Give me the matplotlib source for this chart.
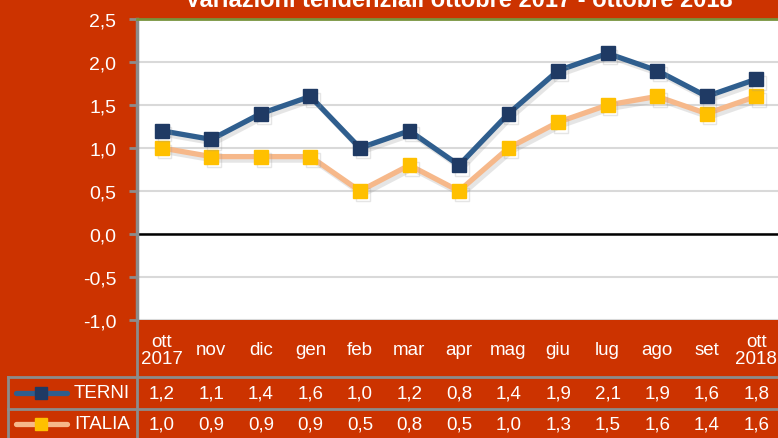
import matplotlib
matplotlib.use("Agg")
from matplotlib import pyplot as plt
from matplotlib import patheffects as pe
from matplotlib.transforms import blended_transform_factory
from matplotlib.lines import Line2D

# data
MONTHS = ["ott\n2017", "nov", "dic", "gen", "feb", "mar", "apr", "mag",
          "giu", "lug", "ago", "set", "ott\n2018"]
TERNI = [1.2, 1.1, 1.4, 1.6, 1.0, 1.2, 0.8, 1.4, 1.9, 2.1, 1.9, 1.6, 1.8]
ITALIA = [1.0, 0.9, 0.9, 0.9, 0.5, 0.8, 0.5, 1.0, 1.3, 1.5, 1.6, 1.4, 1.6]
YTICKS = [-1.0, -0.5, 0.0, 0.5, 1.0, 1.5, 2.0, 2.5]
TITLE = "Variazioni tendenziali ottobre 2017 - ottobre 2018"

BG = "#CC3300"
TERNI_LINE, TERNI_MK = "#2F5E8E", "#1F3A64"
ITALIA_LINE, ITALIA_MK = "#F6B88A", "#FFC000"
GRID_GRAY = "#8C8C8C"

plt.rcParams["font.family"] = ["Liberation Sans", "DejaVu Sans"]

W, H = 778, 439
fig = plt.figure(figsize=(W / 100, H / 100), dpi=100, facecolor=BG)
ax = fig.add_axes([137 / W, 118 / H, 644 / W, 301 / H])
ax.set_facecolor("white")

x = list(range(len(MONTHS)))
shadow = [pe.SimpleLineShadow(offset=(2, -2.5), shadow_color="#9a9a9a",
                              alpha=0.25), pe.Normal()]
ax.plot(x, ITALIA, color=ITALIA_LINE, lw=3.8, marker="s", ms=10,
        mfc=ITALIA_MK, mec=ITALIA_MK, path_effects=shadow, zorder=3)
ax.plot(x, TERNI, color=TERNI_LINE, lw=3.8, marker="s", ms=10,
        mfc=TERNI_MK, mec=TERNI_MK, path_effects=shadow, zorder=4)

ax.set_xlim(-0.5, 12.5)
ax.set_ylim(-1.0, 2.5)
ax.set_yticks(YTICKS)
ax.set_yticklabels([f"{v:.1f}".replace(".", ",") for v in YTICKS],
                   color="white", fontsize=14)
ax.set_xticks([])
ax.tick_params(axis="y", length=6, width=2, color=GRID_GRAY, pad=9)
ax.grid(axis="y", color="#D9D9D9", lw=1.5, zorder=0)
ax.axhline(0, color="black", lw=1.8, zorder=2)

for side in ["right", "bottom"]:
    ax.spines[side].set_visible(False)
ax.spines["top"].set_color("#77933C")
ax.spines["top"].set_linewidth(2)
ax.spines["left"].set_color(GRID_GRAY)
ax.spines["left"].set_linewidth(2.5)

fig.text(459 / W, 1 - 7 / H, TITLE, color="white", fontsize=17,
         fontweight="bold", ha="center", va="baseline")

# data table below the plot
tr = blended_transform_factory(ax.transData, fig.transFigure)
TS = 13.5


def fy(py):
    return 1 - py / H


for i, m in enumerate(MONTHS):
    ax.text(i, fy(351), m, transform=tr, ha="center", va="center",
            color="white", fontsize=TS, linespacing=1.05, clip_on=False)
    ax.text(i, fy(394), f"{TERNI[i]:.1f}".replace(".", ","), transform=tr,
            ha="center", va="center", color="white", fontsize=TS,
            clip_on=False)
    ax.text(i, fy(425), f"{ITALIA[i]:.1f}".replace(".", ","), transform=tr,
            ha="center", va="center", color="white", fontsize=TS,
            clip_on=False)

for py in [378, 410]:
    fig.add_artist(Line2D([8 / W, 1], [fy(py), fy(py)], color=GRID_GRAY,
                          lw=2, transform=fig.transFigure))
for px, top in [(8, 378), (137, 321)]:
    fig.add_artist(Line2D([px / W, px / W], [fy(top), 0], color=GRID_GRAY,
                          lw=2, transform=fig.transFigure))

for name, yc, lc, mc in [("TERNI", 394, TERNI_LINE, TERNI_MK),
                         ("ITALIA", 425, ITALIA_LINE, ITALIA_MK)]:
    fig.add_artist(Line2D([16 / W, 67 / W], [fy(yc), fy(yc)], color=lc,
                          lw=3.8, solid_capstyle="round",
                          transform=fig.transFigure))
    fig.add_artist(Line2D([41 / W], [fy(yc)], marker="s", ms=8.5, mfc=mc,
                          mec=mc, transform=fig.transFigure))
    fig.text(130 / W, fy(yc), name, ha="right", va="center", color="white",
             fontsize=TS)

fig.savefig("out.png", dpi=100, facecolor=BG)
